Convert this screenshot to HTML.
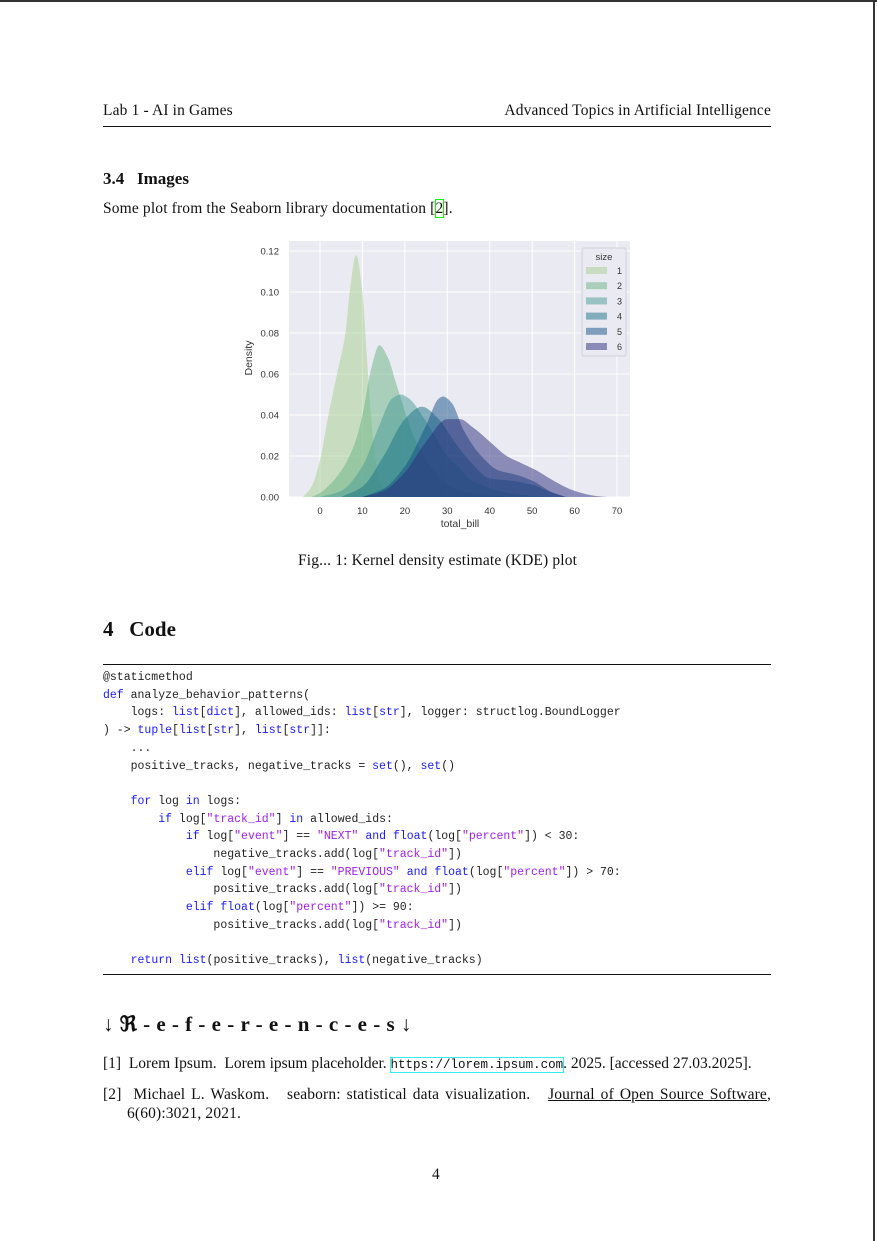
<!DOCTYPE html>
<html><head><meta charset="utf-8">
<style>
body{margin:0;width:877px;height:1241px;background:#fff;position:relative;overflow:hidden;font-family:"Liberation Serif",serif;color:#111}
.a{position:absolute;white-space:pre}
.s{font-size:15.5px;letter-spacing:0.15px}
.code{font-family:"Liberation Mono",monospace;font-size:11.5px;color:#222}
.k{color:#1a1aff}.st{color:#a020f0}
</style></head><body>
<div class="a" style="left:0;top:0;width:877px;height:2px;background:#333"></div>
<div class="a" style="left:873px;top:0;width:2px;height:1241px;background:#333"></div>
<div class="a s" style="left:103px;top:102px">Lab 1 - AI in Games</div>
<div class="a s" style="right:106px;top:102px">Advanced Topics in Artificial Intelligence</div>
<div class="a" style="left:103px;top:126px;width:668px;height:1px;background:#111"></div>
<div class="a" style="left:103px;top:169px;font-size:17px;font-weight:bold">3.4&nbsp;&nbsp;&nbsp;Images</div>
<div class="a s" style="left:103px;top:200px">Some plot from the Seaborn library documentation [<span style="outline:1px solid #0f0">2</span>].</div>

<svg class="a" style="left:240px;top:235px" width="400" height="300">
<g id="chart"></g>
</svg>

<div class="a s" style="left:298px;top:552px">Fig... 1: Kernel density estimate (KDE) plot</div>
<div class="a" style="left:103px;top:617px;font-size:21px;font-weight:bold">4&nbsp;&nbsp;&nbsp;Code</div>
<div class="a" style="left:103px;top:664px;width:668px;height:1px;background:#111"></div>
<div class="a code" style="left:103px;top:669px;line-height:17.7px">@staticmethod
<span class="k">def</span> analyze_behavior_patterns(
    logs: <span class="k">list</span>[<span class="k">dict</span>], allowed_ids: <span class="k">list</span>[<span class="k">str</span>], logger: structlog.BoundLogger
) -&gt; <span class="k">tuple</span>[<span class="k">list</span>[<span class="k">str</span>], <span class="k">list</span>[<span class="k">str</span>]]:
    ...
    positive_tracks, negative_tracks = <span class="k">set</span>(), <span class="k">set</span>()

    <span class="k">for</span> log <span class="k">in</span> logs:
        <span class="k">if</span> log[<span class="st">"track_id"</span>] <span class="k">in</span> allowed_ids:
            <span class="k">if</span> log[<span class="st">"event"</span>] == <span class="st">"NEXT"</span> <span class="k">and</span> <span class="k">float</span>(log[<span class="st">"percent"</span>]) &lt; 30:
                negative_tracks.add(log[<span class="st">"track_id"</span>])
            <span class="k">elif</span> log[<span class="st">"event"</span>] == <span class="st">"PREVIOUS"</span> <span class="k">and</span> <span class="k">float</span>(log[<span class="st">"percent"</span>]) &gt; 70:
                positive_tracks.add(log[<span class="st">"track_id"</span>])
            <span class="k">elif</span> <span class="k">float</span>(log[<span class="st">"percent"</span>]) &gt;= 90:
                positive_tracks.add(log[<span class="st">"track_id"</span>])

    <span class="k">return</span> <span class="k">list</span>(positive_tracks), <span class="k">list</span>(negative_tracks)</div>
<div class="a" style="left:103px;top:974px;width:668px;height:1px;background:#111"></div>
<div class="a" style="left:103px;top:1012px;font-size:21px;font-weight:bold;letter-spacing:0.5px">↓ ℜ - e - f - e - r - e - n - c - e - s ↓</div>
<div class="a" style="left:103px;top:1055px;font-size:15.5px">[1]&nbsp;&nbsp;Lorem Ipsum.&nbsp;&nbsp;Lorem ipsum placeholder. <span style="font-family:'Liberation Mono',monospace;font-size:12.5px;outline:1.5px solid #3ee;">https://lorem.ipsum.com</span>. 2025. [accessed 27.03.2025].</div>
<div class="a s" style="left:103px;top:1086px;width:668px;text-align:justify;text-align-last:justify">[2]&nbsp;&nbsp;Michael L. Waskom.&nbsp;&nbsp; seaborn: statistical data visualization.&nbsp;&nbsp; <span style="text-decoration:underline">Journal of Open Source Software</span>,</div>
<div class="a s" style="left:127px;top:1105px">6(60):3021, 2021.</div>
<div class="a s" style="left:432px;top:1166px">4</div>

<script>
const xTicks=[0,10,20,30,40,50,60,70];
const yTicks=[0,0.02,0.04,0.06,0.08,0.10,0.12];
const sizes=["1","2","3","4","5","6"];
const colors=["#a6d08c","#68b484","#469a94","#1a7286","#145088","#2a2c7a"];
const x1=[-4,-2,0,2,4,6,7,8.5,10,11,12,13,14,16,18];
const y1=[0,0.005,0.018,0.04,0.06,0.08,0.1,0.118,0.1,0.07,0.04,0.02,0.008,0.002,0];
const x2=[-2,0,4,8,10,12,14,16,18,20,22,25,28,30,35,40,45];
const y2=[0,0.002,0.01,0.025,0.04,0.062,0.074,0.068,0.055,0.042,0.03,0.018,0.01,0.006,0.002,0.0008,0];
const x3=[0,5,10,14,17,19,21,24,27,30,33,35,38,42,46,50,55];
const y3=[0,0.003,0.015,0.035,0.048,0.05,0.048,0.04,0.03,0.02,0.014,0.009,0.006,0.003,0.0015,0.0005,0];
const x4=[5,10,15,20,24,28,32,36,40,45,50,55,58];
const y4=[0,0.005,0.02,0.038,0.044,0.038,0.026,0.016,0.009,0.008,0.006,0.002,0];
const x5=[10,15,20,25,28,29,31,34,38,42,46,50,55,58];
const y5=[0,0.004,0.015,0.035,0.048,0.049,0.046,0.032,0.02,0.013,0.011,0.008,0.002,0];
const x6=[10,15,20,25,30,33,36,40,44,48,51,55,60,65,68];
const y6=[0,0.003,0.012,0.027,0.038,0.038,0.034,0.027,0.02,0.016,0.013,0.008,0.003,0.0005,0];
const seriesX=[x1,x2,x3,x4,x5,x6], seriesY=[y1,y2,y3,y4,y5,y6];

const NS="http://www.w3.org/2000/svg";
const g=document.getElementById('chart');
const L=49,R=390,T=6,B=262;
const sx=v=>80+v*(377-80)/70;
const sy=v=>B-v*(B-16)/0.12;
function mk(tag,attrs,parent){const e=document.createElementNS(NS,tag);for(const k in attrs)e.setAttribute(k,attrs[k]);(parent||g).appendChild(e);return e;}
const bg=mk('rect',{x:L,y:T,width:R-L,height:B-T,fill:'#eaeaf2'});


xTicks.forEach(t=>{
  const l=mk('line',{x1:sx(t),x2:sx(t),y1:T,y2:B,stroke:'#fff','stroke-width':1});
  
  
  const tx=mk('text',{x:sx(t),y:B+17,'text-anchor':'middle','font-size':9.5,fill:'#333','font-family':'Liberation Sans, sans-serif'});
  tx.textContent=t;
  
  
});
yTicks.forEach(t=>{
  const l=mk('line',{x1:L,x2:R,y1:sy(t),y2:sy(t),stroke:'#fff','stroke-width':1});
  
  
  const tx=mk('text',{x:L-10,y:sy(t)+3.5,'text-anchor':'end','font-size':9.5,fill:'#333','font-family':'Liberation Sans, sans-serif'});
  tx.textContent=t.toFixed(2);
  
  
});
function smooth(px,py){
  const n=px.length,d=[],m=new Array(n);
  for(let i=0;i<n-1;i++)d.push((py[i+1]-py[i])/(px[i+1]-px[i]));
  m[0]=d[0];m[n-1]=d[n-2];
  for(let i=1;i<n-1;i++){
    if(d[i-1]*d[i]<=0)m[i]=0;
    else{const h0=px[i]-px[i-1],h1=px[i+1]-px[i];const w1=2*h1+h0,w2=h1+2*h0;m[i]=(w1+w2)/(w1/d[i-1]+w2/d[i]);}
  }
  let s=`M${px[0]},${py[0]}`;
  for(let i=0;i<n-1;i++){
    const h=(px[i+1]-px[i])/3;
    s+=` C${px[i]+h},${py[i]+m[i]*h} ${px[i+1]-h},${py[i+1]-m[i+1]*h} ${px[i+1]},${py[i+1]}`;
  }
  return s;
}
seriesX.forEach((xs,i)=>{
  const px=xs.map(sx),py=seriesY[i].map(sy);
  const p=mk('path',{d:smooth(px,py)+` L${px[px.length-1]},${B} L${px[0]},${B} Z`,fill:colors[i],'fill-opacity':0.5,stroke:'none'});
  
  
});
const xl=mk('text',{x:220,y:B+30,'text-anchor':'middle','font-size':10.5,fill:'#333','font-family':'Liberation Sans, sans-serif'});
xl.textContent='total_bill';


const yl=mk('text',{x:12,y:123,'text-anchor':'middle','font-size':10.5,fill:'#333','font-family':'Liberation Sans, sans-serif',transform:'rotate(-90 12 123)'});
yl.textContent='Density';


const lg=mk('rect',{x:342,y:13,width:44,height:108,fill:'#eaeaf2',stroke:'#d0d0d8',rx:2});


const lt=mk('text',{x:364,y:25,'text-anchor':'middle','font-size':9.5,fill:'#333','font-family':'Liberation Sans, sans-serif'});
lt.textContent='size';


sizes.forEach((s,i)=>{
  const yy=32+i*15.2;
  const sw=mk('rect',{x:346,y:yy,width:21,height:7,fill:colors[i],'fill-opacity':0.5});
  
  
  const t=mk('text',{x:377,y:yy+7,'font-size':9,fill:'#333','font-family':'Liberation Sans, sans-serif'});
  t.textContent=s;
  
  
});
</script>
</body></html>
